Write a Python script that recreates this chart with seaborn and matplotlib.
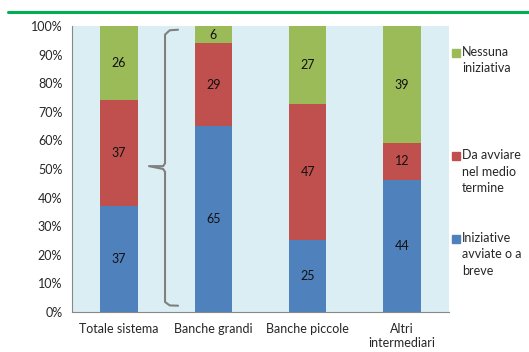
import numpy as np
import pandas as pd
import seaborn as sns
import matplotlib.pyplot as plt
from matplotlib.patches import Rectangle
from matplotlib.lines import Line2D

# dati
categorie = ["Totale sistema", "Banche grandi", "Banche piccole", "Altri\nintermediari"]
avviate = [37, 65, 25, 44]
medio_termine = [37, 29, 47, 12]
nessuna = [26, 6, 27, 39]
serie = ["Iniziative\navviate o a\nbreve", "Da avviare\nnel medio\ntermine", "Nessuna\niniziativa"]
colori = ["#4F81BD", "#C0504D", "#9BBB59"]

sns.set_style("white")
plt.rcParams["font.family"] = ["Lato", "DejaVu Sans"]

df = pd.DataFrame({"cat": categorie, "a": avviate, "m": medio_termine, "n": nessuna})
tot = df[["a", "m", "n"]].sum(axis=1)
pct = df[["a", "m", "n"]].div(tot, axis=0) * 100

fig = plt.figure(figsize=(5.29, 3.52), dpi=100)
W, H = 529, 352
ax = fig.add_axes([72 / W, (H - 312) / H, (449 - 72) / W, (312 - 26) / H])
ax.set_facecolor("#DBEEF4")

bottom = np.zeros(len(df))
for col, nome, c in zip(["a", "m", "n"], serie, colori):
    sns.barplot(x=df["cat"], y=pct[col], bottom=bottom, color=c, width=0.4,
                ax=ax, saturation=1, linewidth=0, edgecolor="none")
    for i, (v, p) in enumerate(zip(df[col], pct[col])):
        ax.text(i, bottom[i] + p / 2, str(v), ha="center", va="center", fontsize=9, color="#111111")
    bottom = bottom + pct[col].values

ax.set_xlim(-0.5, 3.5)
ax.set_ylim(0, 100)
ax.set_yticks(np.arange(0, 101, 10))
ax.set_yticklabels([f"{t}%" for t in range(0, 101, 10)], fontsize=9)
ax.set_xticks(range(4))
ax.set_xticklabels(categorie, fontsize=9)
ax.set_xticks(np.arange(-0.5, 3.6, 1), minor=True)
ax.tick_params(axis="x", which="major", length=0, pad=8)
ax.tick_params(axis="x", which="minor", length=4, color="#888888", direction="out")
ax.tick_params(axis="y", length=4, color="#888888", direction="out", pad=3)
ax.set_xlabel("")
ax.set_ylabel("")
for s in ["top", "right"]:
    ax.spines[s].set_visible(False)
for s in ["left", "bottom"]:
    ax.spines[s].set_color("#888888")

# parentesi graffa
xb, xt, xh = 0.487, 0.317, 0.625
ax.plot([xh, xb + 0.05, xb, xb, xb - 0.02, xt, xb - 0.02, xb, xb, xb + 0.05, xh],
        [98.7, 98.5, 97, 52, 51, 51, 50, 49, 3.5, 2.3, 2.2],
        color="#808080", lw=1.5, clip_on=False)

# legenda manuale
for y0, nome, c in [(48, serie[2], colori[2]), (151, serie[1], colori[1]), (234, serie[0], colori[0])]:
    fig.patches.append(Rectangle((452 / W, 1 - (y0 + 9) / H), 8 / W, 8 / H,
                                 transform=fig.transFigure, color=c))
    fig.text(462 / W, 1 - (y0 - 2) / H, nome, fontsize=9, va="top", ha="left", linespacing=1.45)

# linea verde in alto
fig.add_artist(Line2D([8 / W, 1], [1 - 12 / H, 1 - 12 / H], color="#00B050", lw=2.2))

fig.savefig("out.png", dpi=100)
